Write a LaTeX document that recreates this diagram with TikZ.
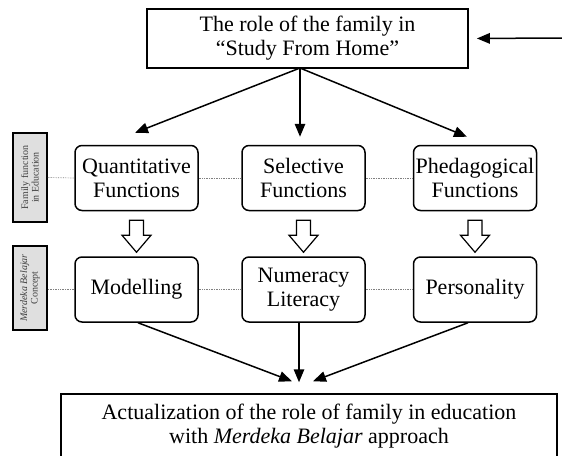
\documentclass[tikz,border=0pt]{standalone}
\usepackage{fontspec}
\setmainfont{Liberation Serif}
\usetikzlibrary{arrows.meta}

\begin{document}
\begin{tikzpicture}[
    x=1pt, y=-1pt,
    every node/.style={align=center, font=\fontsize{22}{24}\selectfont},
    main/.style={draw, line width=1.8pt, minimum width=321pt, minimum height=59pt, inner sep=1pt},
    func/.style={draw, rounded corners=7pt, line width=1.5pt, minimum width=123pt, minimum height=65pt, inner sep=1pt},
    side/.style={draw, line width=1.8pt, fill=gray!25, rotate=90, minimum height=34pt, inner sep=1pt, text=black!75, font=\fontsize{10}{10.5}\selectfont},
    link/.style={densely dotted, gray, line width=0.7pt},
    flow/.style={-{Triangle[length=13pt,width=10.5pt]}, line width=1.5pt},
    hollow/.style={draw, line width=1.2pt, fill=white},
  ]
  \useasboundingbox (0,0) rectangle (562,455);

  \node[main] (role) at (307.5,38.5) {The role of the family in\\``Study From Home''};
  \coordinate (enter) at (562,38);
  \coordinate (fork) at (300,68);

  \node[side, minimum width=89pt] (famfun) at (30,177.5) {Family function\\in Education};
  \node[side, minimum width=84pt] (mbconcept) at (30,288) {\textit{Merdeka Belajar}\\Concept};

  \node[func] (quant) at (136.5,178) {Quantitative\\Functions};
  \node[func] (select) at (303.5,178) {Selective\\Functions};
  \node[func] (pheda) at (475,178) {Phedagogical\\Functions};

  \node[func] (model) at (136.5,289.5) {Modelling};
  \node[func] (numlit) at (303.5,289.5) {Numeracy\\Literacy};
  \node[func] (person) at (475,289.5) {Personality};

  \node[draw, line width=1.5pt, minimum width=496pt, minimum height=64pt] (actual) at (309,426)
    {Actualization of the role of family in education\\with \textit{Merdeka Belajar} approach};

  \draw[flow, shorten >=8pt] (enter) -- (role.east);
  \draw[flow] (fork) -- ([xshift=-1.5pt, yshift=12pt]quant.north);
  \draw[flow] (fork) -- ([xshift=-3.5pt, yshift=8pt]select.north);
  \draw[flow] (fork) -- ([xshift=-8pt, yshift=8pt]pheda.north);

  \draw[link] (famfun.south) -- (quant.west);
  \draw[link] (quant.east) -- (select.west);
  \draw[link] (select.east) -- (pheda.west);
  \draw[link] (mbconcept.south |- model.west) -- (model.west);
  \draw[link] (model.east) -- (numlit.west);
  \draw[link] (numlit.east) -- (person.west);

  \foreach \a in {quant, select, pheda}
    \draw[hollow] ([shift={(-7,9)}]\a.south) -- ++(0,15) -- ++(-7.5,0) -- ++(14.5,17)
      -- ++(14.5,-17) -- ++(-7.5,0) -- ++(0,-15) -- cycle;

  \draw[flow] ([xshift=1.5pt]model.south) -- ([xshift=-17pt, yshift=12pt]actual.north);
  \draw[flow] ([xshift=-4.5pt]numlit.south) -- ([xshift=-10pt, yshift=11pt]actual.north);
  \draw[flow] ([xshift=-7pt]person.south) -- ([xshift=4pt, yshift=12pt]actual.north);
\end{tikzpicture}
\end{document}
